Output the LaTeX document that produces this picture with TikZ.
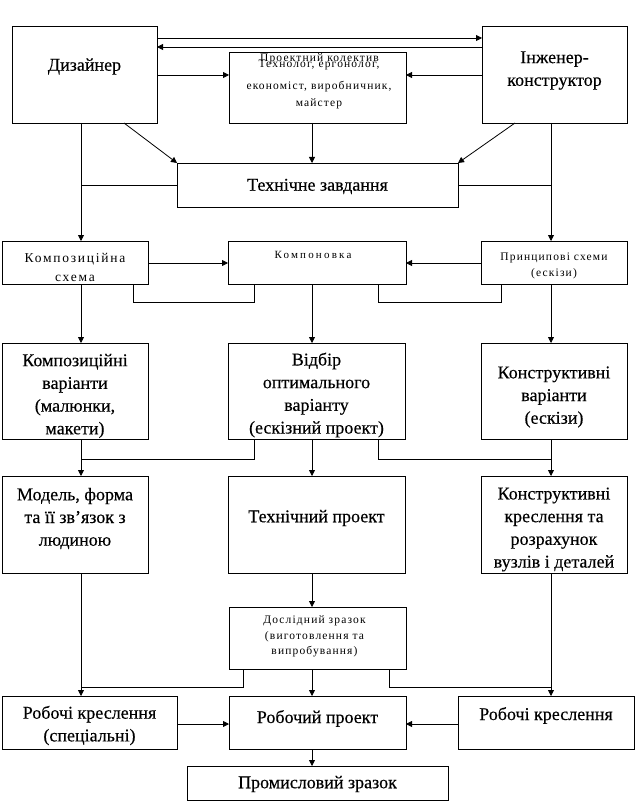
\documentclass[tikz,border=0pt]{standalone}
\usepackage{fontspec}
\setmainfont{Liberation Serif}
\newfontfamily\bigf[FakeBold=0.35]{Liberation Serif}
\newfontfamily\lsA[LetterSpace=13]{Liberation Serif}
\newfontfamily\lsB[LetterSpace=10]{Liberation Serif}
\newfontfamily\lsK[LetterSpace=20]{Liberation Serif}
\newfontfamily\lsC[LetterSpace=10]{Liberation Serif}
\usetikzlibrary{arrows.meta}
\tikzset{
  box/.style={draw, line width=0.8pt, rectangle, inner sep=0pt, outer sep=0pt, align=center},
  big/.style={font=\bigf\fontsize{18}{22.7}\selectfont, align=center},
  smA/.style={font=\lsA\fontsize{13.5}{19}\selectfont, align=center},
  smB/.style={font=\lsB\fontsize{11.5}{15.5}\selectfont, align=center},
  smK/.style={font=\lsK\fontsize{11}{15.5}\selectfont, align=center},
  smC/.style={font=\lsC\fontsize{11.5}{17}\selectfont, align=center},
  ln/.style={line width=0.8pt},
  arr/.style={ln, -{Triangle[length=6pt,width=6pt]}},
}
\begin{document}
\begin{tikzpicture}[x=1pt,y=-1pt]
\useasboundingbox (0,0) rectangle (635,802);
% rails
\coordinate (xL) at (81,0);
\coordinate (xC) at (312,0);
\coordinate (xR) at (551,0);
\coordinate (xa) at (133,0);
\coordinate (xb) at (254,0);
\coordinate (xc) at (378,0);
\coordinate (xd) at (501,0);
\coordinate (xe) at (243,0);
\coordinate (xf) at (389,0);
\coordinate (dA) at (124,0);
\coordinate (dB) at (515,0);
\coordinate (y38) at (0,38);
\coordinate (y47) at (0,47);
\coordinate (y75) at (0,75);
\coordinate (y263) at (0,263);
\coordinate (y302) at (0,302);
\coordinate (y459) at (0,459);
\coordinate (y687) at (0,687);
\coordinate (y724) at (0,724);
% boxes
\node[box, minimum width=145pt, minimum height=97pt,
  label={[big, name=dizt, yshift=8pt]center:Дизайнер}] (diz) at (84.5,74.5) {};
\node[box, minimum width=177pt, minimum height=71pt] (proj) at (317.5,87.5) {};
\node[smC] (projt) at (319.5,59) {Проектний колектив};
\node[smC] (projb) at (319,84) {Технолог, ергонолог,\\[5pt]економіст, виробничник,\\майстер};
\node[box, minimum width=145pt, minimum height=97pt,
  label={[big, name=ingt, yshift=4pt]center:Інженер-\\конструктор}] (ing) at (554.5,74.5) {};
\node[box, minimum width=281pt, minimum height=44pt,
  label={[big, name=tzt, yshift=-1.5pt]center:Технічне завдання}] (tz) at (317.5,185) {};
\node[box, minimum width=146pt, minimum height=43pt,
  label={[smA, name=kst, yshift=-5pt]center:Композиційна\\схема}] (ks) at (75,262.5) {};
\node[box, minimum width=178pt, minimum height=43pt,
  label={[smK, name=kompt, yshift=7.5pt, xshift=-4pt]center:Компоновка}] (komp) at (317,262.5) {};
\node[box, minimum width=146pt, minimum height=43pt,
  label={[smB, name=pst, yshift=-3.5pt]center:Принципові схеми\\(ескізи)}] (ps) at (554,262.5) {};
\node[box, minimum width=146pt, minimum height=96pt,
  label={[big, name=kvt, yshift=-5pt]center:Композиційні\\варіанти\\(малюнки,\\макети)}] (kv) at (75,391) {};
\node[box, minimum width=177pt, minimum height=96pt,
  label={[big, name=vidt, yshift=-4pt]center:Відбір\\оптимального\\варіанту\\(ескізний проект)}] (vid) at (316.5,391) {};
\node[box, minimum width=146pt, minimum height=96pt,
  label={[big, name=konvt, yshift=-6pt]center:Конструктивні\\варіанти\\(ескізи)}] (konv) at (554,391) {};
\node[box, minimum width=146pt, minimum height=97pt,
  label={[big, name=modelt, yshift=6pt]center:Модель, форма\\та її зв’язок з\\людиною}] (model) at (75,524.5) {};
\node[box, minimum width=177pt, minimum height=97pt,
  label={[big, name=tpt, yshift=6.5pt]center:Технічний проект}] (tp) at (316.5,524.5) {};
\node[box, minimum width=146pt, minimum height=97pt,
  label={[big, name=kkt, yshift=-5pt]center:Конструктивні\\креслення та\\розрахунок\\вузлів і деталей}] (kk) at (554,524.5) {};
\node[box, minimum width=177pt, minimum height=62pt,
  label={[smB, name=dzt, yshift=1.5pt, xshift=-3pt]center:Дослідний зразок\\(виготовлення та\\випробування)}] (dz) at (317.5,638) {};
\node[box, minimum width=175pt, minimum height=53pt,
  label={[big, name=rk1t, yshift=-3pt]center:Робочі креслення\\(спеціальні)}] (rk1) at (89.5,722.5) {};
\node[box, minimum width=177pt, minimum height=53pt,
  label={[big, name=rpt, yshift=4pt]center:Робочий проект}] (rp) at (317.5,722.5) {};
\node[box, minimum width=176pt, minimum height=53pt,
  label={[big, name=rk2t, yshift=7pt]center:Робочі креслення}] (rk2) at (546,722.5) {};
\node[box, minimum width=261pt, minimum height=34pt,
  label={[big, name=pzt, yshift=-1pt]center:Промисловий зразок}] (pz) at (317.5,783) {};
% top connectors
\draw[arr] (diz.east |- y38) -- (ing.west |- y38);
\draw[arr] (ing.west |- y47) -- (diz.east |- y47);
\draw[arr] (diz.east |- y75) -- (proj.west |- y75);
\draw[arr] (ing.west |- y75) -- (proj.east |- y75);
\draw[arr] (diz.south -| dA) -- (tz.north west);
\draw[arr] (ing.south -| dB) -- (tz.north east);
\draw[arr] (proj.south -| xC) -- (tz.north -| xC);
\draw[arr] (diz.south -| xL) -- (ks.north -| xL);
\draw[arr] (ing.south -| xR) -- (ps.north -| xR);
\draw[ln] (tz.west) -- (tz.west -| xL);
\draw[ln] (tz.east) -- (tz.east -| xR);
% second row
\draw[arr] (ks.east |- y263) -- (komp.west |- y263);
\draw[arr] (ps.west |- y263) -- (komp.east |- y263);
\draw[ln] (ks.south -| xa) -- (xa |- y302) -- (xb |- y302) -- (komp.south -| xb);
\draw[ln] (komp.south -| xc) -- (xc |- y302) -- (xd |- y302) -- (ps.south -| xd);
\draw[arr] (ks.south -| xL) -- (kv.north -| xL);
\draw[arr] (komp.south -| xC) -- (vid.north -| xC);
\draw[arr] (ps.south -| xR) -- (konv.north -| xR);
% third row
\draw[arr] (kv.south -| xL) -- (model.north -| xL);
\draw[arr] (vid.south -| xC) -- (tp.north -| xC);
\draw[arr] (konv.south -| xR) -- (kk.north -| xR);
\draw[ln] (vid.south -| xb) -- (xb |- y459) -- (xL |- y459);
\draw[ln] (vid.south -| xc) -- (xc |- y459) -- (xR |- y459);
% lower rows
\draw[arr] (tp.south -| xC) -- (dz.north -| xC);
\draw[arr] (model.south -| xL) -- (rk1.north -| xL);
\draw[arr] (kk.south -| xR) -- (rk2.north -| xR);
\draw[arr] (dz.south -| xC) -- (rp.north -| xC);
\draw[ln] (dz.south -| xe) -- (xe |- y687) -- (xL |- y687);
\draw[ln] (dz.south -| xf) -- (xf |- y687) -- (xR |- y687);
\draw[arr] (rk1.east |- y724) -- (rp.west |- y724);
\draw[arr] (rk2.west |- y724) -- (rp.east |- y724);
\draw[arr] (rp.south -| xC) -- (pz.north -| xC);
\end{tikzpicture}
\end{document}
